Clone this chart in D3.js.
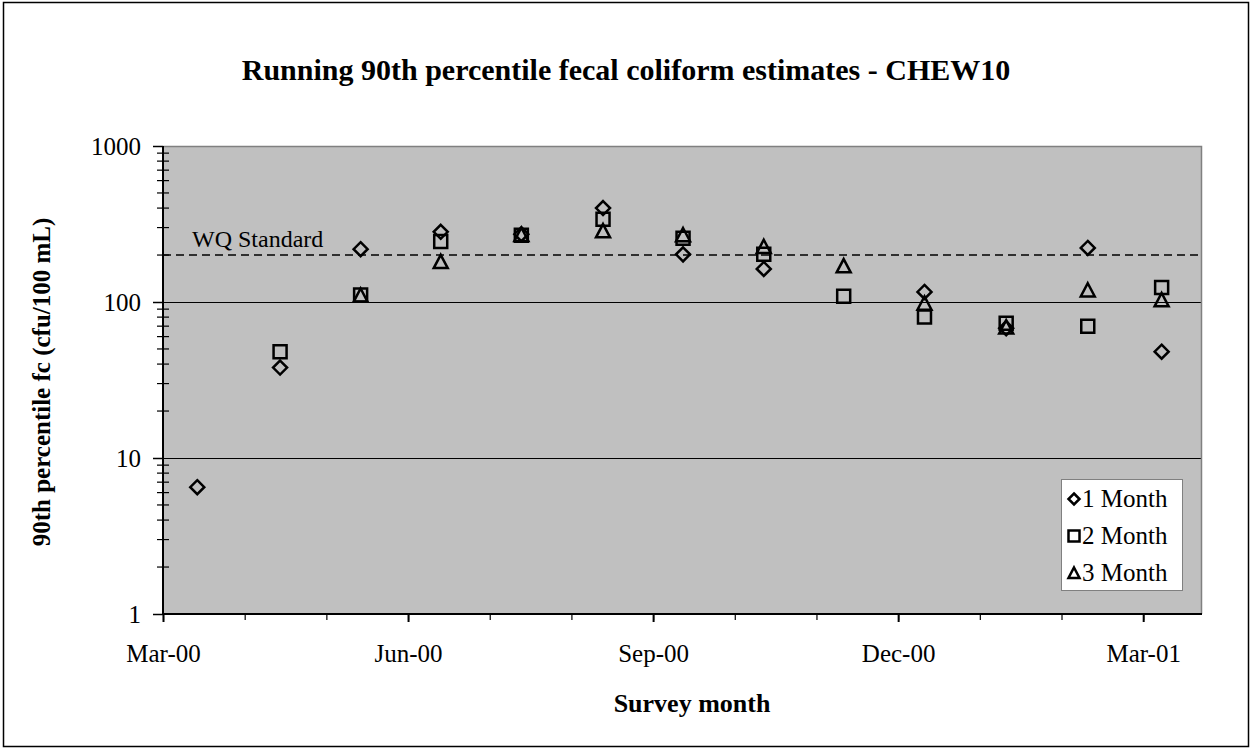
<!DOCTYPE html>
<html>
<head>
<meta charset="utf-8">
<script src="https://cdn.jsdelivr.net/npm/d3@7"></script>
<style>
  html, body { margin: 0; padding: 0; background: #fff; }
  svg { display: block; }
  text { font-family: "Liberation Serif", "Times New Roman", serif; fill: #000; }
</style>
</head>
<body>
<svg id="chart" width="1253" height="750"></svg>
<script>
// ---- data ----
const surveyDates = ["2000-03-14","2000-04-14","2000-05-14","2000-06-13","2000-07-13","2000-08-13",
                     "2000-09-12","2000-10-12","2000-11-11","2000-12-11","2001-01-11","2001-02-10","2001-03-08"];
const oneMonth   = [6.5, 38, 218, 282, 272, 400, 202, 163, null, 116, 68, 222, 48];
const twoMonth   = [null, 48, 111, 244, 268, 339, 256, 202, 109, 80, 73, 70, 124];
const threeMonth = [null, null, 110, 181, 270, 285, 269, 226, 170, 98, 69, 119, 103];
const seriesNames = ["1 Month", "2 Month", "3 Month"];
const majorTickLabels = ["Mar-00", "Jun-00", "Sep-00", "Dec-00", "Mar-01"];
const yTickValues = [1, 10, 100, 1000];
const wqStandard = 200;
const titleText = "Running 90th percentile fecal coliform estimates - CHEW10";
const yTitle = "90th percentile fc (cfu/100 mL)";
const xTitle = "Survey month";

// ---- helpers ----
// month position relative to Mar 2000 (uniform month spacing, as in the source axis)
function monthPos(s) {
  const d = new Date(s + "T00:00:00");
  const y = d.getFullYear(), m = d.getMonth(), day = d.getDate();
  const dim = new Date(y, m + 1, 0).getDate();
  return (y - 2000) * 12 + (m - 2) + (day - 1) / dim;
}

const svg = d3.select("#chart");
const plot = { left: 163, right: 1202, top: 146, bottom: 614 };

const x = d3.scaleLinear().domain([0, 12.72]).range([plot.left, plot.right]);
const y = d3.scaleLog().domain([1, 1000]).range([plot.bottom, plot.top]);

// outer frame
svg.append("rect").attr("x", 3.5).attr("y", 2.5).attr("width", 1245).attr("height", 744)
  .attr("fill", "#fff").attr("stroke", "#000").attr("stroke-width", 1.5);

// plot background
svg.append("rect").attr("x", plot.left).attr("y", plot.top)
  .attr("width", plot.right - plot.left).attr("height", plot.bottom - plot.top)
  .attr("fill", "#C0C0C0");

// gridlines
svg.append("g").selectAll("line").data([10, 100]).join("line")
  .attr("x1", plot.left).attr("x2", plot.right)
  .attr("y1", d => Math.round(y(d)) + 0.5).attr("y2", d => Math.round(y(d)) + 0.5)
  .attr("stroke", "#000").attr("stroke-width", 1);

// plot border (top/right gray)
svg.append("path")
  .attr("d", `M${plot.left},${plot.top + 0.5}H${plot.right - 0.5}V${plot.bottom}`)
  .attr("fill", "none").attr("stroke", "#808080").attr("stroke-width", 1.5);

// WQ standard line
svg.append("line")
  .attr("x1", plot.left).attr("x2", plot.right)
  .attr("y1", y(wqStandard)).attr("y2", y(wqStandard))
  .attr("stroke", "#000").attr("stroke-width", 1.5).attr("stroke-dasharray", "8,5");
svg.append("text").attr("x", 192).attr("y", y(wqStandard) - 8)
  .attr("font-size", 24).text("WQ Standard");

// y axis: major ticks
const yAxis = d3.axisLeft(y).tickValues(yTickValues).tickFormat(d3.format("d"))
  .tickSize(10).tickPadding(12);
const gy = svg.append("g").attr("transform", `translate(${plot.left},0)`).call(yAxis);
gy.select(".domain").remove();
gy.selectAll(".tick line").attr("stroke", "#000").attr("stroke-width", 1.5);
gy.selectAll(".tick text").attr("font-size", 25).attr("font-family", "Liberation Serif, serif");

// y minor ticks (crossing)
const minorY = [];
for (let dec = 1; dec < 1000; dec *= 10) for (let k = 2; k <= 9; k++) minorY.push(dec * k);
svg.append("g").selectAll("line").data(minorY).join("line")
  .attr("x1", plot.left - 6).attr("x2", plot.left + 6)
  .attr("y1", d => y(d)).attr("y2", d => y(d))
  .attr("stroke", "#000").attr("stroke-width", 1.2);

// y axis line
svg.append("line").attr("x1", plot.left).attr("x2", plot.left)
  .attr("y1", plot.top).attr("y2", plot.bottom + 1)
  .attr("stroke", "#000").attr("stroke-width", 2);

// x axis minor ticks
const monthTicks = d3.range(0, 13);
const xMinor = d3.axisBottom(x).tickValues(monthTicks).tickFormat("").tickSize(6);
const gxm = svg.append("g").attr("transform", `translate(0,${plot.bottom})`).call(xMinor);
gxm.select(".domain").remove();
gxm.selectAll(".tick line").attr("stroke", "#000").attr("stroke-width", 1.2);

// x axis major ticks with labels
const majorTicks = d3.range(0, 13, 3);
const xMajor = d3.axisBottom(x).tickValues(majorTicks)
  .tickFormat((d, i) => majorTickLabels[i]).tickSize(8).tickPadding(22);
const gx = svg.append("g").attr("transform", `translate(0,${plot.bottom})`).call(xMajor);
gx.select(".domain").remove();
gx.selectAll(".tick line").attr("stroke", "#000").attr("stroke-width", 2);
gx.selectAll(".tick text").attr("font-size", 25).attr("font-family", "Liberation Serif, serif");

// x axis line
svg.append("line").attr("x1", plot.left - 1).attr("x2", plot.right)
  .attr("y1", plot.bottom).attr("y2", plot.bottom)
  .attr("stroke", "#000").attr("stroke-width", 2);

// ---- symbols ----
const diamondType = { draw(ctx, size) { const r = Math.sqrt(size) / 2;
  ctx.moveTo(0, -r); ctx.lineTo(r, 0); ctx.lineTo(0, r); ctx.lineTo(-r, 0); ctx.closePath(); } };
const squareType = { draw(ctx, size) { const r = Math.sqrt(size) / 2;
  ctx.rect(-r, -r, 2 * r, 2 * r); } };
const triangleType = { draw(ctx, size) { const r = Math.sqrt(size) / 2;
  ctx.moveTo(0, -r); ctx.lineTo(r, r * 0.9); ctx.lineTo(-r, r * 0.9); ctx.closePath(); } };

const series = [
  { name: seriesNames[0], values: oneMonth, type: diamondType, size: 14 * 14 },
  { name: seriesNames[1], values: twoMonth, type: squareType, size: 13 * 13 },
  { name: seriesNames[2], values: threeMonth, type: triangleType, size: 14 * 14 }
];

series.forEach(s => {
  const pts = surveyDates.map((d, i) => ({ x: monthPos(d), v: s.values[i] })).filter(p => p.v != null);
  svg.append("g").selectAll("path").data(pts).join("path")
    .attr("transform", p => `translate(${x(p.x)},${y(p.v)})`)
    .attr("d", d3.symbol().type(s.type).size(s.size)())
    .attr("fill", "none").attr("stroke", "#000").attr("stroke-width", 2.5);
});

// ---- legend ----
const lg = svg.append("g").attr("transform", "translate(1061,479)");
lg.append("rect").attr("x", 0.5).attr("y", 0.5).attr("width", 121).attr("height", 111)
  .attr("fill", "#fff").attr("stroke", "#808080").attr("stroke-width", 1);
series.forEach((s, i) => {
  const cy = 20 + i * 37;
  lg.append("path").attr("transform", `translate(13,${cy})`)
    .attr("d", d3.symbol().type(s.type).size(11 * 11)())
    .attr("fill", "none").attr("stroke", "#000").attr("stroke-width", 2.5);
  lg.append("text").attr("x", 21).attr("y", cy + 8).attr("font-size", 25).text(s.name);
});

// ---- titles ----
svg.append("text").attr("x", 626).attr("y", 80).attr("text-anchor", "middle")
  .attr("font-size", 30).attr("font-weight", "bold").text(titleText);
svg.append("text").attr("x", 692).attr("y", 712).attr("text-anchor", "middle")
  .attr("font-size", 26).attr("font-weight", "bold").text(xTitle);
svg.append("text").attr("transform", "translate(50,382) rotate(-90)").attr("text-anchor", "middle")
  .attr("font-size", 25).attr("font-weight", "bold").text(yTitle);
</script>
</body>
</html>
